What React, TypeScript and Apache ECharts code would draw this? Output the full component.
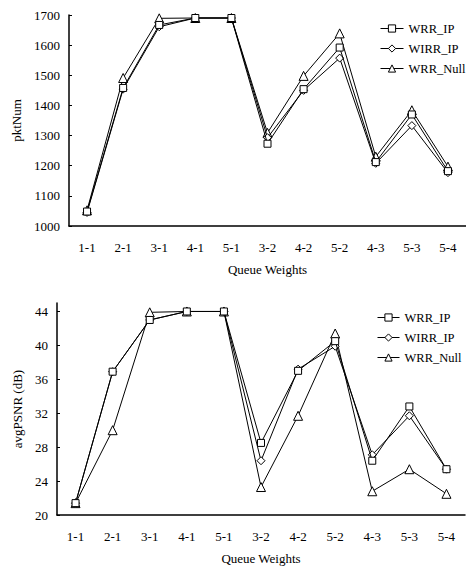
import React, { useEffect, useRef } from "react";
import * as echarts from "echarts";

const categories = ["1-1", "2-1", "3-1", "4-1", "5-1", "3-2", "4-2", "5-2", "4-3", "5-3", "5-4"];
const seriesNames = ["WRR_IP", "WIRR_IP", "WRR_Null"];
const symbols = ["rect", "diamond", "triangle"];

// pktNum per queue weight
const pktWrrIp = [1048, 1458, 1667, 1690, 1690, 1273, 1454, 1592, 1212, 1370, 1182];
const pktWirrIp = [1045, 1454, 1661, 1690, 1690, 1293, 1450, 1557, 1208, 1333, 1177];
const pktWrrNull = [1052, 1491, 1689, 1690, 1690, 1309, 1498, 1639, 1230, 1384, 1197];

// avgPSNR (dB) per queue weight
const psnrWrrIp = [21.4, 36.9, 43.0, 44.0, 44.0, 28.5, 37.0, 40.5, 26.4, 32.8, 25.4];
const psnrWirrIp = [21.4, 36.9, 43.0, 44.0, 44.0, 26.4, 37.2, 39.9, 27.1, 31.7, 25.4];
const psnrWrrNull = [21.4, 30.0, 43.9, 44.0, 44.0, 23.3, 31.7, 41.4, 22.8, 25.4, 22.5];

const pktTicks = [1000, 1100, 1200, 1300, 1400, 1500, 1600, 1700];
const psnrTicks = [20, 24, 28, 32, 36, 40, 44];

const FONT = "'Liberation Serif', 'Times New Roman', serif";
const text = { fontFamily: FONT, fontSize: 13, color: "#000" };

function makeSeries(values: number[][], gridIndex: number) {
  return values.map((data, i) => ({
    name: seriesNames[i],
    type: "line",
    xAxisIndex: gridIndex * 2,
    yAxisIndex: gridIndex,
    data,
    symbol: symbols[i],
    symbolSize: i === 0 ? 7 : i === 1 ? 8 : 9,
    showSymbol: true,
    lineStyle: { color: "#000", width: 1 },
    itemStyle: { color: "#fff", borderColor: "#000", borderWidth: 1 },
    z: 3 - i,
  }));
}

function xAxes(gridIndex: number) {
  return [
    {
      type: "category",
      gridIndex,
      data: categories,
      boundaryGap: true,
      name: "Queue Weights",
      nameLocation: "middle",
      nameGap: 37,
      nameTextStyle: { ...text },
      axisLine: { lineStyle: { color: "#000", width: 1.5 } },
      axisTick: { inside: true, length: 3, lineStyle: { color: "#000" } },
      axisLabel: { ...text, margin: 15 },
      splitLine: { show: false },
    },
    {
      // second tick row: one tick under every category centre
      type: "category",
      gridIndex,
      position: "bottom",
      data: categories,
      boundaryGap: true,
      axisLine: { show: false },
      axisTick: { inside: true, alignWithLabel: true, length: 3, lineStyle: { color: "#000" } },
      axisLabel: { show: false },
      splitLine: { show: false },
    },
  ];
}

function yAxis(gridIndex: number, name: string, min: number, max: number, interval: number, ticks: number[], nameGap: number) {
  return {
    type: "value",
    gridIndex,
    name,
    nameLocation: "middle",
    nameGap,
    nameTextStyle: { ...text },
    min,
    max,
    interval,
    axisLine: { show: true, lineStyle: { color: "#000", width: 1.5 } },
    axisTick: { show: true, inside: true, length: 3, customValues: ticks, lineStyle: { color: "#000" } },
    axisLabel: { ...text, margin: 9, customValues: ticks, formatter: (v: number) => String(v) },
    splitLine: { show: false },
  };
}

function legend(left: number, top: number, itemWidth: number) {
  return {
    orient: "vertical",
    left,
    top,
    itemWidth,
    itemHeight: 9,
    itemGap: 7,
    padding: 0,
    itemStyle: { borderWidth: 1, borderColor: "#000", color: "#fff" },
    lineStyle: { width: 1, color: "#000" },
    textStyle: { ...text, fontSize: 12.5 },
    data: seriesNames,
  };
}

export default function App() {
  const ref = useRef<HTMLDivElement>(null);
  useEffect(() => {
    if (!ref.current) return;
    const chart = echarts.init(ref.current, null, { renderer: "svg" });
    chart.setOption({
      animation: false,
      backgroundColor: "#fff",
      textStyle: { fontFamily: FONT },
      grid: [
        { left: 69, top: 15, width: 399, height: 211 },
        { left: 57, top: 303, width: 408, height: 212 },
      ],
      xAxis: [...xAxes(0), ...xAxes(1)],
      yAxis: [
        yAxis(0, "pktNum", 1000, 1700, 100, pktTicks, 40),
        yAxis(1, "avgPSNR (dB)", 20, 45, 4, psnrTicks, 28),
      ],
      legend: [legend(380, 22, 23), legend(377, 311, 22)],
      series: [
        ...makeSeries([pktWrrIp, pktWirrIp, pktWrrNull], 0),
        ...makeSeries([psnrWrrIp, psnrWirrIp, psnrWrrNull], 1),
      ],
    });
    return () => chart.dispose();
  }, []);
  return <div ref={ref} style={{ width: 466, height: 566, position: "absolute", left: 0, top: 0 }} />;
}
